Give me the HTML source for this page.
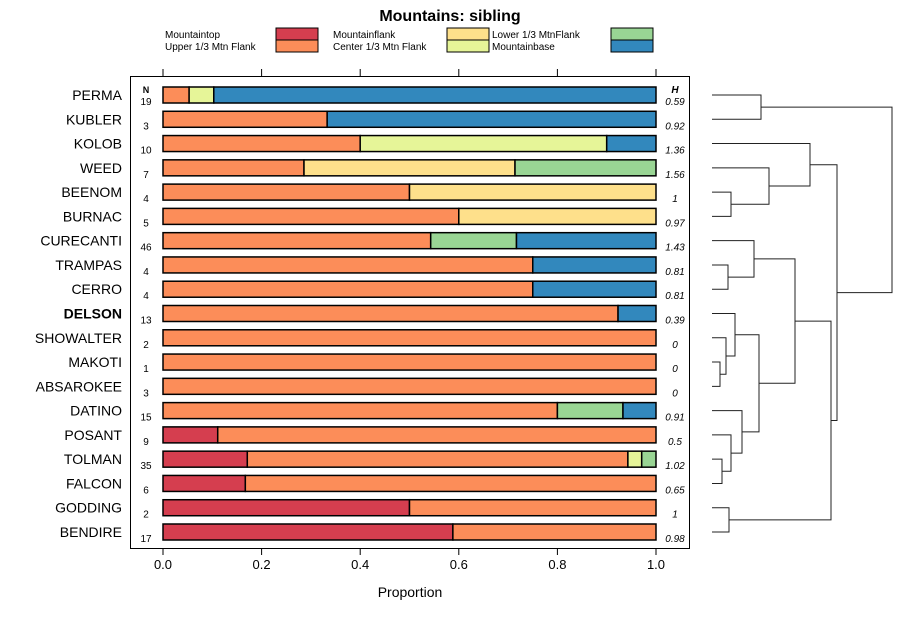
<!DOCTYPE html>
<html><head><meta charset="utf-8"><style>
body{margin:0;background:#fff;font-family:"Liberation Sans",sans-serif;overflow:hidden}
</style></head><body>
<svg id="c" width="900" height="620" xmlns="http://www.w3.org/2000/svg" font-family="Liberation Sans, sans-serif"></svg>
<script>
const categories=["PERMA","KUBLER","KOLOB","WEED","BEENOM","BURNAC","CURECANTI","TRAMPAS","CERRO","DELSON","SHOWALTER","MAKOTI","ABSAROKEE","DATINO","POSANT","TOLMAN","FALCON","GODDING","BENDIRE"];
const nValues=[19,3,10,7,4,5,46,4,4,13,2,1,3,15,9,35,6,2,17];
const hValues=["0.59","0.92","1.36","1.56","1","0.97","1.43","0.81","0.81","0.39","0","0","0","0.91","0.5","1.02","0.65","1","0.98"];
const seriesNames=["Mountaintop","Upper 1/3 Mtn Flank","Mountainflank","Center 1/3 Mtn Flank","Lower 1/3 MtnFlank","Mountainbase"];
const mountaintop=[0,0,0,0,0,0,0,0,0,0,0,0,0,0,0.111,0.171,0.167,0.5,0.588];
const upperFlank=[0.053,0.333,0.4,0.286,0.5,0.6,0.543,0.75,0.75,0.923,1,1,1,0.8,0.889,0.772,0.833,0.5,0.412];
const mountainflank=[0,0,0,0.428,0.5,0.4,0,0,0,0,0,0,0,0,0,0,0,0,0];
const centerFlank=[0.05,0,0.5,0,0,0,0,0,0,0,0,0,0,0,0,0.028,0,0,0];
const lowerFlank=[0,0,0,0.286,0,0,0.174,0,0,0,0,0,0,0.133,0,0.029,0,0,0];
const mountainbase=[0.897,0.667,0.1,0,0,0,0.283,0.25,0.25,0.077,0,0,0,0.067,0,0,0,0,0];
const xTicks=[0,0.2,0.4,0.6,0.8,1.0];
const colors=["#d53e4f","#fc8d59","#fee08b","#e6f598","#99d594","#3288bd"];
// dendrogram merges: [a,b,mergeX]; a/b >=0 leaf index, "mK" = earlier merge K
const merges=[[0,1,761],[4,5,731],[3,"m1",769],[2,"m2",810],[7,8,728],[6,"m4",754],[11,12,720],[10,"m6",726],[9,"m7",735],[15,16,722],[14,"m9",731],[13,"m10",742],["m8","m11",759],["m5","m12",795],[17,18,729],["m13","m14",831],["m3","m15",837],["m0","m16",892]];

const svg=document.getElementById('c');const NS="http://www.w3.org/2000/svg";
function el(t,a,txt){const e=document.createElementNS(NS,t);for(const k in a)e.setAttribute(k,a[k]);if(txt!==undefined)e.textContent=txt;svg.appendChild(e);return e;}
const X0=163,X1=656;const xs=v=>X0+(X1-X0)*v;
const Y0=95,DY=(532-95)/18;const ys=i=>Y0+DY*i;
let t=el('text',{x:450,y:21,'text-anchor':'middle','font-size':16,'font-weight':'bold'},'Mountains: sibling');

const legPos=[[165,276,34],[165,276,46],[333,447,34],[333,447,46],[492,611,34],[492,611,46]];
seriesNames.forEach((n,i)=>{const p=legPos[i];
 let tt=el('text',{x:p[0],y:p[2]+4,'font-size':10},n);
 let r=el('rect',{x:p[1],y:p[2]-6,width:42,height:12,fill:colors[i],stroke:'#000','stroke-width':1});});
let pn=el('rect',{x:130.5,y:76.5,width:559,height:472,fill:'none',stroke:'#000'});
xTicks.forEach(v=>{const x=xs(v);
 el('line',{x1:x,x2:x,y1:548,y2:555,stroke:'#000'});el('line',{x1:x,x2:x,y1:76,y2:69,stroke:'#000'});
 let tl=el('text',{x:x,y:569,'text-anchor':'middle','font-size':13},v.toFixed(1));});
let xt=el('text',{x:410,y:597,'text-anchor':'middle','font-size':14},'Proportion');
el('text',{x:146,y:93,'text-anchor':'middle','font-size':9,'font-weight':'bold'},'N');
el('text',{x:675,y:93,'text-anchor':'middle','font-size':10,'font-weight':'bold','font-style':'italic'},'H');
const series=[mountaintop,upperFlank,mountainflank,centerFlank,lowerFlank,mountainbase];
categories.forEach((c,i)=>{const y=ys(i);
 let l=el('text',{x:122,y:y+5,'text-anchor':'end','font-size':14,'font-weight':c==='DELSON'?'bold':'normal'},c);
 let nl=el('text',{x:146,y:y+10,'text-anchor':'middle','font-size':10},String(nValues[i]));
 let hl=el('text',{x:675,y:y+10,'text-anchor':'middle','font-size':10,'font-style':'italic'},hValues[i]);
 let acc=0;series.forEach((s,k)=>{if(s[i]>0){let r=el('rect',{x:xs(acc),y:y-8,width:xs(acc+s[i])-xs(acc),height:16,fill:colors[k],stroke:'#000','stroke-width':1.5});
  acc+=s[i];}});
});
const nodes=[];
function pos(r){ if(typeof r==='number') return {x:712,y:ys(r)}; return nodes[parseInt(r.slice(1))]; }
merges.forEach(m=>{const a=pos(m[0]),b=pos(m[1]),h=m[2];
 let p=el('polyline',{points:`${a.x},${a.y} ${h},${a.y} ${h},${b.y} ${b.x},${b.y}`,fill:'none',stroke:'#222','stroke-width':1});
 
 
 nodes.push({x:h,y:(a.y+b.y)/2});});
</script>
</body></html>
